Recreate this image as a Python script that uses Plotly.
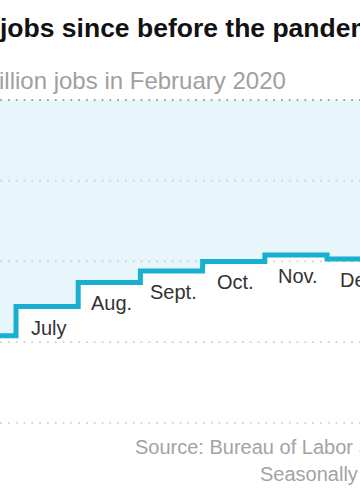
import plotly.graph_objects as go

# Data: change in jobs since February 2020, millions (seasonally adjusted)
months = ["June", "July", "Aug.", "Sept.", "Oct.", "Nov.", "Dec."]
change_millions = [-14.6, -12.8, -11.3, -10.6, -10.0, -9.6, -9.85]
grid_values = [0, -5, -10, -15, -20]

title_text = "jobs since before the pandemic"
subtitle_text = "million jobs in February 2020"
source_lines = ["Source: Bureau of Labor Statistics", "Seasonally adjusted"]

W, H = 360, 504
X_RANGE = [0.7428, 6.530]
Y_RANGE = [-25.03, 6.196]

LINE_COLOR = "#19afd0"
FILL_COLOR = "#e6f6fb"
FONT = "Liberation Sans, Arial, sans-serif"

x = list(range(len(change_millions) + 1))
y = change_millions + [change_millions[-1]]

fig = go.Figure()

# Light-blue area between Feb 2020 level and the step line
fig.add_trace(go.Scatter(x=x, y=y, mode="lines", line=dict(width=0, shape="hv"),
                         fill="tozeroy", fillcolor=FILL_COLOR, hoverinfo="skip",
                         showlegend=False))

# Dotted gridlines
for g in grid_values:
    fig.add_trace(go.Scatter(
        x=[X_RANGE[0] - 1, X_RANGE[1] + 1], y=[g, g], mode="lines",
        line=dict(color="#a3a3a3" if g == 0 else "#cfcfcf", width=1.8,
                  dash="1.8px,6px"),
        hoverinfo="skip", showlegend=False))

# Step line
fig.add_trace(go.Scatter(x=x, y=y, mode="lines",
                         line=dict(color=LINE_COLOR, width=5, shape="hv"),
                         hoverinfo="skip", showlegend=False))

annotations = []
for i, (m, v) in enumerate(zip(months, change_millions)):
    annotations.append(dict(x=i + 0.5, y=v, xref="x", yref="y", text=m,
                            showarrow=False, xanchor="center", yanchor="middle",
                            xshift=2, yshift=-21,
                            font=dict(family=FONT, size=20, color="#333333")))

def px(xp):
    return xp / W

def py(yp):
    return 1 - yp / H

annotations.append(dict(x=px(-3), y=py(28), xref="paper", yref="paper",
                        text=title_text, showarrow=False, xanchor="left",
                        yanchor="middle",
                        font=dict(family=FONT, size=26.5, color="#121212",
                                  weight="bold")))
annotations.append(dict(x=px(-23), y=py(80), xref="paper", yref="paper",
                        text=subtitle_text, showarrow=False, xanchor="left",
                        yanchor="middle",
                        font=dict(family=FONT, size=24, color="#a0a0a0")))
for k, (s, yp) in enumerate(zip(source_lines, [447, 474])):
    annotations.append(dict(x=px(441), y=py(yp), xref="paper", yref="paper",
                            text=s, showarrow=False, xanchor="right",
                            yanchor="middle",
                            font=dict(family=FONT, size=20, color="#a3a3a3")))

fig.update_layout(
    width=W, height=H,
    margin=dict(l=0, r=0, t=0, b=0),
    paper_bgcolor="white", plot_bgcolor="white",
    xaxis=dict(range=X_RANGE, visible=False, fixedrange=True),
    yaxis=dict(range=Y_RANGE, visible=False, fixedrange=True),
    annotations=annotations,
    showlegend=False,
)

fig.write_html("out.html", config={"displayModeBar": False, "staticPlot": True},
               post_script="document.body.style.margin='0';"
                           "document.body.style.overflow='hidden';")
